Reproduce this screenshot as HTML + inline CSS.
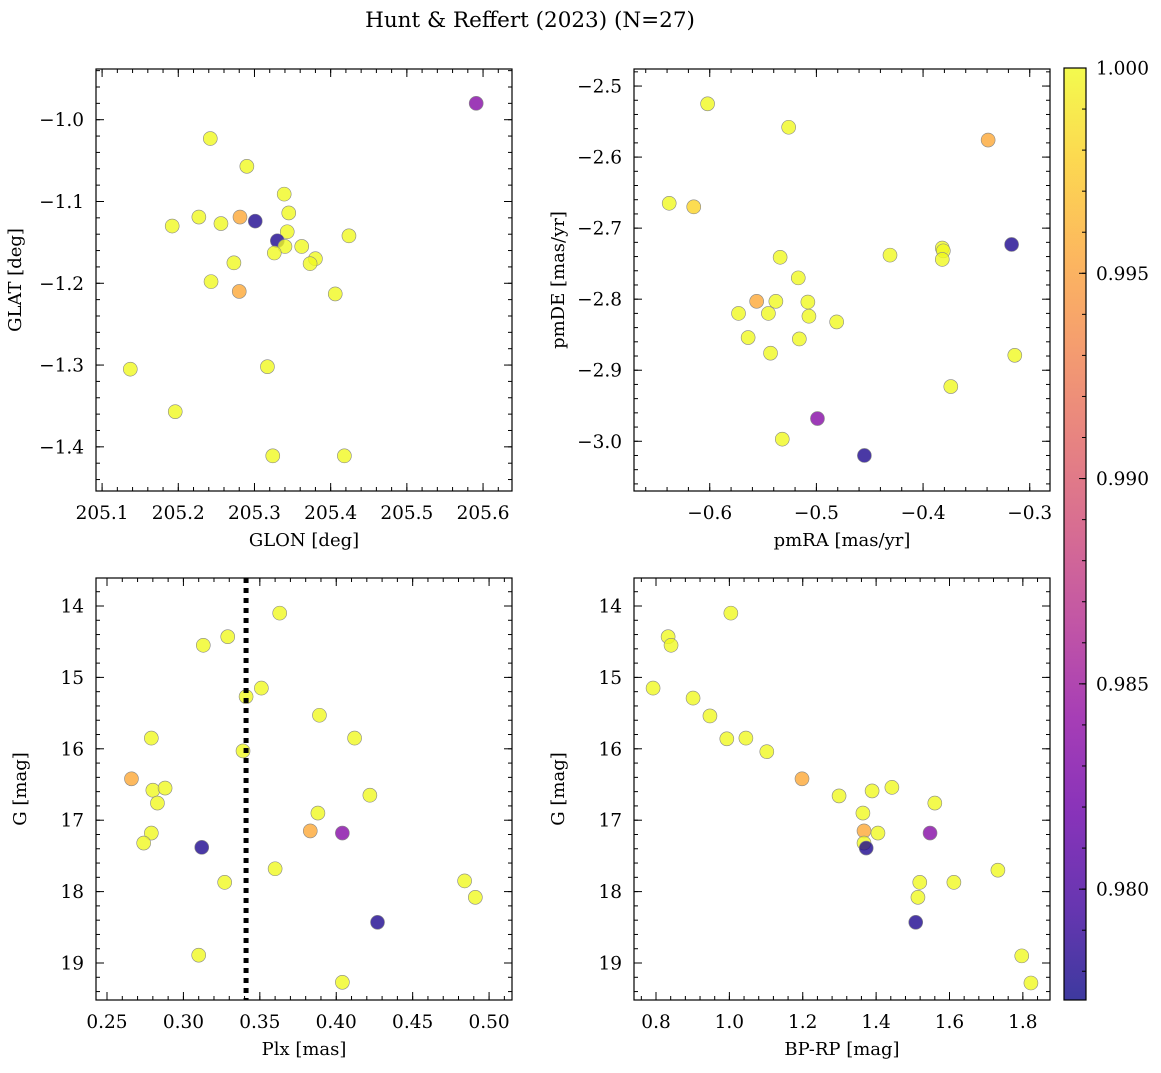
<!DOCTYPE html>
<html><head><meta charset="utf-8"><style>
body{margin:0;background:#fff}
svg{font-family:"DejaVu Serif","Liberation Serif",serif}
</style></head><body>
<svg id="fig" width="1161" height="1068" viewBox="0 0 1161 1068">
<text x="530" y="27" text-anchor="middle" font-size="21.5">Hunt &amp; Reffert (2023) (N=27)</text>
<defs><linearGradient id="plasma" x1="0" y1="1" x2="0" y2="0">
<stop offset="0" stop-color="#0d0887"/><stop offset="0.1" stop-color="#41049d"/><stop offset="0.2" stop-color="#6a00a8"/><stop offset="0.3" stop-color="#8f0da4"/><stop offset="0.4" stop-color="#b12a90"/><stop offset="0.5" stop-color="#cc4778"/><stop offset="0.6" stop-color="#e16462"/><stop offset="0.7" stop-color="#f2844b"/><stop offset="0.8" stop-color="#fca636"/><stop offset="0.9" stop-color="#fcce25"/><stop offset="1" stop-color="#f0f921"/>
</linearGradient></defs>
</svg>
<script>
// Panel 1: GLON / GLAT
const p1_glon=[205.591,205.242,205.290,205.339,205.227,205.281,205.301,205.256,205.192,205.345,205.343,205.424,205.330,205.340,205.362,205.326,205.380,205.373,205.273,205.243,205.280,205.406,205.317,205.137,205.196,205.324,205.418];
const p1_glat=[-0.980,-1.023,-1.057,-1.091,-1.119,-1.119,-1.124,-1.127,-1.130,-1.114,-1.137,-1.142,-1.148,-1.155,-1.155,-1.163,-1.170,-1.176,-1.175,-1.198,-1.210,-1.213,-1.302,-1.305,-1.357,-1.411,-1.411];
const p1_prob=[0.9835,1,1,1,1,0.9955,0.978,1,1,1,1,1,0.978,1,1,1,1,1,1,1,0.9955,1,1,1,1,1,1];
// Panel 2: pmRA / pmDE
const p2_pmra=[-0.602,-0.526,-0.339,-0.638,-0.615,-0.317,-0.382,-0.381,-0.382,-0.431,-0.534,-0.517,-0.556,-0.538,-0.508,-0.573,-0.545,-0.507,-0.481,-0.564,-0.516,-0.543,-0.314,-0.374,-0.499,-0.532,-0.455];
const p2_pmde=[-2.525,-2.558,-2.576,-2.665,-2.670,-2.723,-2.728,-2.732,-2.744,-2.738,-2.741,-2.770,-2.803,-2.803,-2.804,-2.820,-2.820,-2.824,-2.832,-2.854,-2.856,-2.876,-2.879,-2.923,-2.968,-2.997,-3.020];
const p2_prob=[1,1,0.9955,1,0.998,0.978,1,1,1,1,1,1,0.9955,1,1,1,1,1,1,1,1,1,1,1,0.9835,1,0.978];
// Panel 3: Plx / G
const p3_plx=[0.363,0.329,0.313,0.351,0.341,0.389,0.279,0.412,0.339,0.266,0.280,0.288,0.283,0.422,0.388,0.279,0.383,0.404,0.274,0.312,0.360,0.327,0.484,0.491,0.427,0.310,0.404];
const p3_g=[14.10,14.43,14.55,15.15,15.27,15.53,15.85,15.85,16.03,16.42,16.58,16.55,16.76,16.65,16.90,17.18,17.15,17.18,17.32,17.38,17.68,17.87,17.85,18.08,18.43,18.89,19.27];
const p3_prob=[1,1,1,1,1,1,1,1,1,0.9955,1,1,1,1,1,1,0.9955,0.9835,1,0.978,1,1,1,1,0.978,1,1];
const p3_cut=[0.341];
// Panel 4: BP-RP / G
const p4_bprp=[1.004,0.833,0.841,0.792,0.901,0.947,0.993,1.045,1.102,1.198,1.389,1.443,1.560,1.299,1.364,1.367,1.405,1.547,1.367,1.373,1.732,1.519,1.612,1.514,1.508,1.797,1.822];
const p4_g=[14.10,14.43,14.55,15.15,15.29,15.54,15.86,15.85,16.04,16.42,16.59,16.54,16.76,16.66,16.90,17.15,17.18,17.18,17.32,17.39,17.70,17.87,17.87,18.08,18.43,18.90,19.28];
const p4_prob=[1,1,1,1,1,1,1,1,1,0.9955,1,1,1,1,1,0.9955,1,0.9835,1,0.978,1,1,1,1,0.978,1,1];
// Colorbar
const cb_ticks=[0.980,0.985,0.990,0.995,1.000];
const cb_min=0.9773, cb_max=1.0;

const NS="http://www.w3.org/2000/svg";
const svg=document.getElementById('fig');
function mk(tag,attrs,parent){const e=document.createElementNS(NS,tag);for(const k in attrs)e.setAttribute(k,attrs[k]);(parent||svg).appendChild(e);return e;}
const stops=[[0,[13,8,135]],[0.1,[65,4,157]],[0.2,[106,0,168]],[0.3,[143,13,164]],[0.4,[177,42,144]],[0.5,[204,71,120]],[0.6,[225,100,98]],[0.7,[242,132,75]],[0.8,[252,166,54]],[0.9,[252,206,37]],[1,[240,249,33]]];
function cmap(v){let t=(v-cb_min)/(cb_max-cb_min);t=Math.max(0,Math.min(1,t));for(let i=1;i<stops.length;i++){if(t<=stops[i][0]){const a=stops[i-1],b=stops[i];const f=(t-a[0])/(b[0]-a[0]);const c=a[1].map((x,j)=>Math.round(x+(b[1][j]-x)*f));return `rgb(${c})`;}}return 'rgb(240,249,33)';}
function fmt(v,d){return (v<0?'\u2212':'')+Math.abs(v).toFixed(d);}

function panel(name,box,xd,yd,xt,xdig,xminor,yt,ydig,yminor,xs,ys,ps,xl,yl,invertY){
  const [L,T,R,B]=box;
  const g=mk('g',{});
  
  
  const sx=v=>L+(v-xd[0])/(xd[1]-xd[0])*(R-L);
  const sy=invertY?(v=>T+(v-yd[0])/(yd[1]-yd[0])*(B-T)):(v=>B-(v-yd[0])/(yd[1]-yd[0])*(B-T));
  const ticks=(arr,len,isX)=>{arr.forEach(v=>{if(isX){const x=sx(v);if(x<L-0.5||x>R+0.5)return;mk('line',{x1:x,x2:x,y1:B,y2:B-len,stroke:'#000','stroke-width':1},g);mk('line',{x1:x,x2:x,y1:T,y2:T+len,stroke:'#000','stroke-width':1},g);}else{const y=sy(v);if(y<T-0.5||y>B+0.5)return;mk('line',{x1:L,x2:L+len,y1:y,y2:y,stroke:'#000','stroke-width':1},g);mk('line',{x1:R,x2:R-len,y1:y,y2:y,stroke:'#000','stroke-width':1},g);}});};
  const mins=(d,step)=>{const a=[];for(let v=Math.ceil(d[0]/step-1e-6)*step;v<=d[1]+1e-9;v+=step)a.push(v);return a;};
  ticks(mins(xd,xminor),4,true);ticks(mins(yd,yminor),4,false);
  ticks(xt,8,true);ticks(yt,8,false);
  xt.forEach(v=>{const t=mk('text',{x:sx(v),y:B+28,'text-anchor':'middle','font-size':18.5},g);t.textContent=fmt(v,xdig);});
  yt.forEach(v=>{const t=mk('text',{x:L-12,y:sy(v)+6.5,'text-anchor':'end','font-size':18.5},g);t.textContent=fmt(v,ydig);});
  const xlab=mk('text',{x:(L+R)/2,y:B+55,'text-anchor':'middle','font-size':18},g);xlab.textContent=xl;
  
  const yc=(T+B)/2;const ylab=mk('text',{x:0,y:0,'text-anchor':'middle','font-size':18,transform:`translate(${L-(name==='panel-glon-glat'?75:70)},${yc}) rotate(-90)`},g);ylab.textContent=yl;
  
  xs.forEach((v,i)=>{const c=mk('circle',{cx:sx(v),cy:sy(ys[i]),r:7,fill:cmap(ps[i]),'fill-opacity':0.8,stroke:'#888','stroke-width':0.6},g);
    
    });
  mk('rect',{x:L,y:T,width:R-L,height:B-T,fill:'none',stroke:'#000','stroke-width':1.2},g);
  return {g,sx,sy};
}
panel('panel-glon-glat',[96,69,512,491],[205.092,205.638],[-1.454,-0.938],[205.1,205.2,205.3,205.4,205.5,205.6],1,0.02,[-1.4,-1.3,-1.2,-1.1,-1.0],1,0.02,p1_glon,p1_glat,p1_prob,'GLON [deg]','GLAT [deg]',false);
panel('panel-pm',[634,69,1050,491],[-0.671,-0.281],[-3.070,-2.476],[-0.6,-0.5,-0.4,-0.3],1,0.02,[-3.0,-2.9,-2.8,-2.7,-2.6,-2.5],1,0.02,p2_pmra,p2_pmde,p2_prob,'pmRA [mas/yr]','pmDE [mas/yr]',false);
const P3=panel('panel-plx-g',[96,578,512,1000],[0.2428,0.515],[13.608,19.518],[0.25,0.30,0.35,0.40,0.45,0.50],2,0.01,[14,15,16,17,18,19],0,0.2,p3_plx,p3_g,p3_prob,'Plx [mas]','G [mag]',true);
p3_cut.forEach(v=>{const l=mk('line',{x1:P3.sx(v),x2:P3.sx(v),y1:578,y2:1000,stroke:'#000','stroke-width':5,'stroke-dasharray':'5,5'},P3.g);
  
  });
panel('panel-cmd',[634,578,1050,1000],[0.740,1.874],[13.608,19.518],[0.8,1.0,1.2,1.4,1.6,1.8],1,0.04,[14,15,16,17,18,19],0,0.2,p4_bprp,p4_g,p4_prob,'BP-RP [mag]','G [mag]',true);
// colorbar
const cb=mk('g',{});


const cT=68,cB=1000,cL=1064,cR=1086;
mk('rect',{x:cL,y:cT,width:cR-cL,height:cB-cT,fill:'url(#plasma)','fill-opacity':0.8},cb);
mk('rect',{x:cL,y:cT,width:cR-cL,height:cB-cT,fill:'none',stroke:'#000','stroke-width':1.2},cb);
const cy=v=>cB-(v-cb_min)/(cb_max-cb_min)*(cB-cT);
cb_ticks.forEach(v=>{mk('line',{x1:cR,x2:cR-7,y1:cy(v),y2:cy(v),stroke:'#000'},cb);const t=mk('text',{x:cR+10,y:cy(v)+6.5,'font-size':18.5},cb);t.textContent=v.toFixed(3);
  
  });
for(let v=0.978;v<=1.0001;v+=0.001){mk('line',{x1:cR,x2:cR-4,y1:cy(v),y2:cy(v),stroke:'#000'},cb);}
</script>
</body></html>
